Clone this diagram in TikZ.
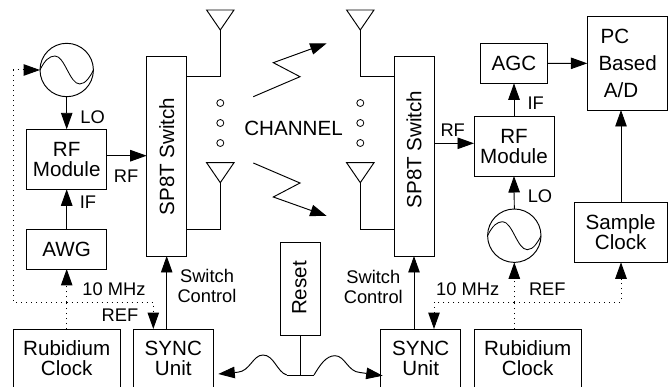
\documentclass[tikz,border=0pt]{standalone}
\usepackage{fontspec}
\setmainfont{Liberation Sans}
\usetikzlibrary{arrows.meta,calc}
\tikzset{
  every node/.style={inner sep=0pt,outer sep=0pt},
  ln/.style={line width=0.95pt,line join=miter},
  conn/.style={ln,-{Triangle[length=16.5pt,width=11.5pt]}},
  dot/.style={line width=1pt,dash pattern=on 1pt off 4pt},
  dotarrow/.style={dot,-{Triangle[length=16.5pt,width=11.5pt]}},
  box/.style={draw,ln,align=center,font=\fontsize{20.6}{20}\selectfont},
  big/.style={align=center,font=\fontsize{20.6}{20}\selectfont},
  small/.style={align=center,font=\fontsize{18.3}{20}\selectfont},
  osc/.style={draw,ln,circle,minimum size=53.4pt},
  antenna/.style={ln},
  hole/.style={draw,line width=0.8pt,circle,minimum size=7pt}
}
\begin{document}
\begin{tikzpicture}[x=1pt,y=-1pt]
\useasboundingbox (0,0) rectangle (669,387);
\clip (0,0) rectangle (669,387);
% boxes
\node[box,minimum width=80pt,minimum height=60pt] (rfL) at (66.7,159.3) {RF\\Module};
\node[box,minimum width=80pt,minimum height=40pt] (awg) at (66.7,249) {AWG};
\node[box,minimum width=106.7pt,minimum height=71pt] (rubL) at (66.7,364.5) {};
\node[big] (rubLt) at (66.7,358) {Rubidium\\Clock};
\node[box,minimum width=80pt,minimum height=71pt] (synL) at (173.3,364.5) {};
\node[big] (synLt) at (173.3,358) {SYNC\\Unit};
\node[box,minimum width=40pt,minimum height=199.3pt] (swL) at (166.7,156.35) {};
\node[big,rotate=90] (swLt) at (166.7,156.5) {SP8T Switch};
\node[box,minimum width=40pt,minimum height=199.3pt] (swR) at (414,156.35) {};
\node[big,rotate=90] (swRt) at (414,149.5) {SP8T Switch};
\node[box,minimum width=80pt,minimum height=59.3pt] (rfR) at (514,146.35) {RF\\Module};
\node[box,minimum width=66.7pt,minimum height=40pt] (agc) at (514,63.3) {AGC};
\node[box,minimum width=80pt,minimum height=93.3pt] (pc) at (627.3,63.35) {};
\node[big] (pct1) at (615,36) {PC};
\node[big] (pct2) at (627.7,63) {Based};
\node[big] (pct3) at (621,90) {A/D};
\node[box,minimum width=93.3pt,minimum height=59.6pt] (smp) at (620.65,232.5) {Sample\\Clock};
\node[box,minimum width=80pt,minimum height=71pt] (synR) at (420.7,364.5) {};
\node[big] (synRt) at (420.7,358) {SYNC\\Unit};
\node[box,minimum width=107pt,minimum height=71pt] (rubR) at (527.5,364.5) {};
\node[big] (rubRt) at (527.7,358) {Rubidium\\Clock};
\node[box,minimum width=40.7pt,minimum height=93.4pt] (rst) at (300.35,289) {};
\node[big,rotate=90] (rstt) at (299.5,288) {Reset};
% oscillators
\node[osc] (oL) at (66.7,70) {};
\node[osc] (oR) at (514.3,235.7) {};
\foreach \o in {oL,oR}{
  \begin{scope}[shift={(\o.center)}]
    \draw[line width=0.85pt] (-26.7,0) .. controls (-22,-10) and (-17,-14) .. (-11.7,-14)
      .. controls (-2,-14) and (3,14) .. (13,14) .. controls (19,14) and (24,6) .. (26.7,0);
  \end{scope}
}
% antennas
\coordinate (a1) at (220.3,30);
\coordinate (a2) at (220.3,182.7);
\coordinate (a3) at (360.3,30);
\coordinate (a4) at (360.3,182.7);
\foreach \a in {a1,a2,a3,a4}{
  \draw[antenna] (\a) -- ++(-13.7,-20) -- ++(27.4,0) -- cycle;
}
\coordinate (s1) at (186.7,76.7);
\coordinate (s2) at (186.7,229);
\coordinate (s3) at (394,76.7);
\coordinate (s4) at (394,229);
\draw[ln] (a1) |- (s1);
\draw[ln] (a2) |- (s2);
\draw[ln] (a3) |- (s3);
\draw[ln] (a4) |- (s4);
% holes
\foreach \i/\y in {1/103,2/123,3/143}{
  \node[hole] (hl\i) at (220.3,\y) {};
  \node[hole] (hr\i) at (360.3,\y) {};
}
% channel
\node[big] (chan) at (293.5,128) {CHANNEL};
\coordinate (z1a) at (253.3,96.7);
\coordinate (z1b) at (300,76.7);
\coordinate (z1c) at (273.3,62.7);
\coordinate (z1d) at (326.7,43.3);
\coordinate (z2a) at (253.3,163);
\coordinate (z2b) at (300,183);
\coordinate (z2c) at (273.3,197);
\coordinate (z2d) at (326.7,216);
\draw[conn] (z1a) -- (z1b) -- (z1c) -- (z1d);
\draw[conn] (z2a) -- (z2b) -- (z2c) -- (z2d);
% connectors
\draw[conn] (oL.south) -- (rfL.north);
\draw[conn] (awg.north) -- (rfL.south);
\draw[conn] (rfL.east |- 0,155.7) -- (swL.west |- 0,155.7);
\draw[conn] (synL.north -| 166.7,0) -- (swL.south -| 166.7,0);
\draw[conn] (swR.east |- 0,143.3) -- (rfR.west |- 0,143.3);
\draw[conn] (synR.north -| swR.south) -- (swR.south);
\draw[conn] (oR.north) -- (rfR.south);
\draw[conn] (rfR.north) -- (agc.south);
\draw[conn] (agc.east) -- (pc.west);
\draw[conn] (smp.north -| 621,0) -- (pc.south -| 621,0);
% reference distribution
\coordinate (jL) at (66.7,302.3);
\coordinate (jR) at (514.3,302.3);
\draw[dot] (rubL.north) -- (jL);
\draw[dotarrow] (jL) -- (awg.south);
\draw[dotarrow] (jL) -| (13.3,70) -- (oL.west);
\draw[dotarrow] (jL) -| (153.3,329);
\draw[dot] (rubR.north -| jR) -- (jR);
\draw[dotarrow] (jR) -- (oR.south);
\draw[dotarrow] (jR) -| (434,329);
\draw[dotarrow] (jR) -| (621,262.3);
% reset
\coordinate (bar) at (300.3,375);
\coordinate (barL) at (286.7,375);
\coordinate (barR) at (314,375);
\coordinate (tipL) at (218.3,374);
\coordinate (tipR) at (382.7,375.7);
\draw[ln] (rst.south -| bar) -- (bar);
\draw[ln] (barL) -- (barR);
\draw[conn] (barL) .. controls (277,372) and (274,355) .. (263,355)
  .. controls (253,355) and (250,371) .. (238,372.2) -- (tipL);
\draw[conn] (barR) .. controls (320,365) and (326,355.7) .. (335,355.7)
  .. controls (345,355.7) and (348,372) .. (360,372.5) -- (tipR);
% labels
\node[small] (lLO1) at (92.7,117) {LO};
\node[small] (lRF1) at (126,176) {RF};
\node[small] (lIF1) at (88,202.7) {IF};
\node[small] (l10a) at (114,289) {10 MHz};
\node[small] (lREFa) at (120,315.7) {REF};
\node[small] (lswa) at (207,286) {Switch\\Control};
\node[small] (lswb) at (373.3,286.5) {Switch\\Control};
\node[small] (l10b) at (467.7,289) {10 MHz};
\node[small] (lREFb) at (547.3,289) {REF};
\node[small] (lRF2) at (452.7,130) {RF};
\node[small] (lIF2) at (535.7,103) {IF};
\node[small] (lLO2) at (540,196.7) {LO};
\end{tikzpicture}
\end{document}
